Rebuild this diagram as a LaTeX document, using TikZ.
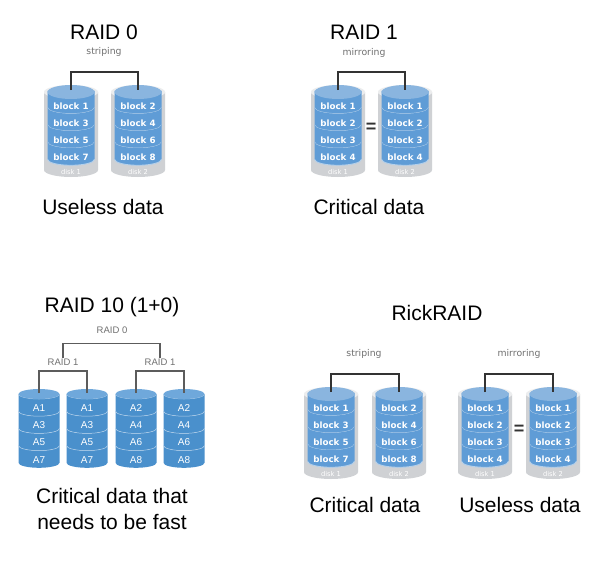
\documentclass[tikz,border=0pt]{standalone}
\usepackage{fontspec}
\setmainfont{Liberation Sans}
\newfontfamily\blockfont{DejaVu Sans}
\usepackage{xcolor}
\definecolor{shell}{HTML}{CFD1D4}
\definecolor{band}{HTML}{5F9CD6}
\definecolor{lid}{HTML}{8AB5DF}
\definecolor{rim}{HTML}{B4D0EA}
\definecolor{bandB}{HTML}{4A90CC}
\definecolor{lidB}{HTML}{6FA8DB}
\definecolor{label}{HTML}{707070}
\definecolor{wire}{HTML}{333333}
\tikzset{
  title/.style={font=\fontsize{21}{25}\selectfont,text=black,align=center,inner sep=0pt},
  small/.style={font=\fontsize{9.5}{12}\selectfont,text=label,inner sep=1pt},
  smallwide/.style={font=\blockfont\fontsize{9.3}{12}\selectfont,text=label,inner sep=1pt},
  blocktext/.style={font=\blockfont\fontsize{8.7}{11}\selectfont\bfseries,text=white,inner sep=0pt},
  disktext/.style={font=\blockfont\fontsize{6.7}{8}\selectfont,text=white,inner sep=0pt},
  atext/.style={font=\fontsize{10}{13}\selectfont,text=white,inner sep=0pt},
  equal/.style={font=\bfseries\fontsize{18}{18}\selectfont,text=wire,inner sep=0pt},
  link/.style={wire,line width=1.5pt},
  thinlink/.style={wire!80,line width=1.2pt}
}
% grey disk: name, x, y, labels, caption
\newcommand{\greydisk}[5]{%
  \begin{scope}[shift={(#2,#3)}]
    \fill[shell] (-27,0) -- (-27,78) arc[start angle=180,end angle=0,x radius=27,y radius=7]
      -- (27,0) arc[start angle=0,end angle=180,x radius=27,y radius=7];
    \fill[white!60!shell] (-27,0) arc[start angle=180,end angle=0,x radius=27,y radius=7]
      arc[start angle=0,end angle=-180,x radius=27,y radius=7];
    \foreach \lbl [count=\n] in {#4} {
      \pgfmathsetmacro{\ytop}{(\n-1)*17.2-1.5}
      \pgfmathsetmacro{\ybot}{\n*17.2-1.5}
      \fill[band] (-23.5,\ytop) -- (-23.5,\ybot) arc[start angle=180,end angle=0,x radius=23.5,y radius=6]
        -- (23.5,\ytop) arc[start angle=0,end angle=180,x radius=23.5,y radius=6];
      \draw[rim,line width=.9pt] (-23.5,\ybot) arc[start angle=180,end angle=0,x radius=23.5,y radius=6];
      \node[blocktext] (#1b\n) at (0,\ytop+15.5) {\lbl};
    }
    \fill[lid] (0,0) ellipse[x radius=23.5,y radius=7];
    \coordinate (#1) at (0,-2);
    \node[disktext] (#1cap) at (0,80) {#5};
  \end{scope}}
% blue disk: name, x, labels
\newcommand{\bluedisk}[3]{%
  \begin{scope}[shift={(#2,394)}]
    \foreach \lbl [count=\n] in {#3} {
      \pgfmathsetmacro{\ytop}{(\n-1)*17.2}
      \pgfmathsetmacro{\ybot}{\n*17.2}
      \fill[bandB] (-20.5,\ytop) -- (-20.5,\ybot) arc[start angle=180,end angle=0,x radius=20.5,y radius=5]
        -- (20.5,\ytop) arc[start angle=0,end angle=180,x radius=20.5,y radius=5];
      \draw[rim,line width=.5pt] (-20.5,\ytop) arc[start angle=180,end angle=0,x radius=20.5,y radius=5];
      \node[atext] (#1b\n) at (0,\ytop+14) {\lbl};
    }
    \fill[lidB] (0,0) ellipse[x radius=20.5,y radius=5];
    \coordinate (#1) at (0,-1);
  \end{scope}}

\begin{document}
\begin{tikzpicture}[x=1pt,y=-1pt]
  \useasboundingbox[fill=white] (0,0) rectangle (596,562);

  % RAID 0
  \node[title] (t0) at (104,32) {RAID 0};
  \node[smallwide] (s0) at (104,52) {striping};
  \greydisk{a}{71}{92}{block 1,block 3,block 5,block 7}{disk 1}
  \greydisk{b}{138}{92}{block 2,block 4,block 6,block 8}{disk 2}
  \draw[link] (a) -- ++(0,-18) -| (b);
  \node[title] (c0) at (103,207) {Useless data};

  % RAID 1
  \node[title] (t1) at (364,32) {RAID 1};
  \node[smallwide] (s1) at (364,53) {mirroring};
  \greydisk{c}{338}{92}{block 1,block 2,block 3,block 4}{disk 1}
  \greydisk{d}{405}{92}{block 1,block 2,block 3,block 4}{disk 2}
  \draw[link] (c) -- ++(0,-18) -| (d);
  \node[equal] (e1) at (371,128) {=};
  \node[title] (c1) at (369,207) {Critical data};

  % RAID 10
  \node[title] (t10) at (112,307) {RAID 10 (1+0)};
  \node[small] (r0) at (112,330) {RAID 0};
  \node[small] (r1) at (63,362) {RAID 1};
  \node[small] (r2) at (160,362) {RAID 1};
  \bluedisk{p}{39}{A1,A3,A5,A7}
  \bluedisk{q}{87}{A1,A3,A5,A7}
  \bluedisk{u}{136}{A2,A4,A6,A8}
  \bluedisk{v}{184}{A2,A4,A6,A8}
  \draw[thinlink] (p) -- ++(0,-22) -| (q);
  \draw[thinlink] (u) -- ++(0,-22) -| (v);
  \draw[thinlink] (r1.north) -- ++(0,-14) -| (r2.north);
  \node[title,align=center] (c10) at (112,509) {Critical data that\\[1pt]needs to be fast};

  % RickRAID
  \node[title] (t2) at (437,313) {RickRAID};
  \node[smallwide] (s2) at (364,354) {striping};
  \node[smallwide] (s3) at (519,354) {mirroring};
  \greydisk{e}{331}{394}{block 1,block 3,block 5,block 7}{disk 1}
  \greydisk{f}{399}{394}{block 2,block 4,block 6,block 8}{disk 2}
  \draw[link] (e) -- ++(0,-18) -| (f);
  \greydisk{g}{485}{394}{block 1,block 2,block 3,block 4}{disk 1}
  \greydisk{h}{553}{394}{block 1,block 2,block 3,block 4}{disk 2}
  \draw[link] (g) -- ++(0,-18) -| (h);
  \node[equal] (e2) at (519,430) {=};
  \node[title] (c2) at (365,505) {Critical data};
  \node[title] (c3) at (520,505) {Useless data};
\end{tikzpicture}
\end{document}
